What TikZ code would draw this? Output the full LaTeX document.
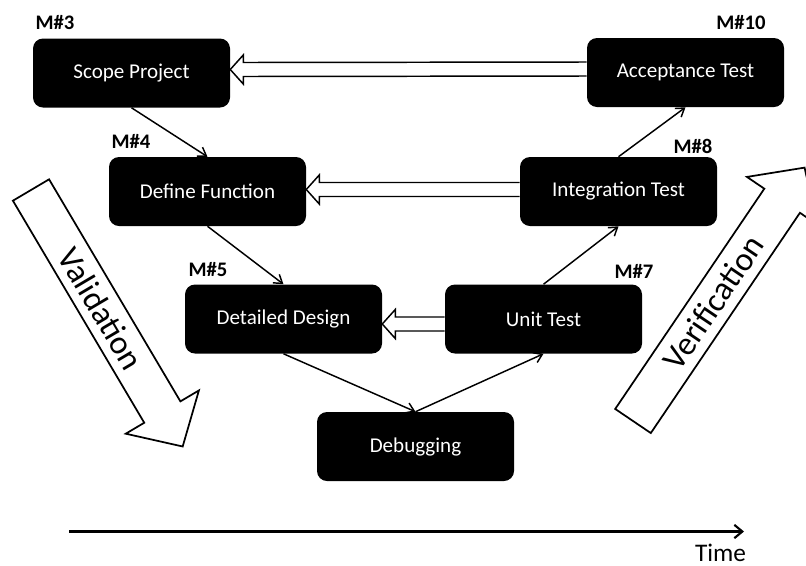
\documentclass[tikz,border=0pt]{standalone}
\usepackage{fontspec}
\setmainfont{Carlito}
\usepackage{tikz}
\usetikzlibrary{arrows.meta, calc}
\tikzset{
  stagebox/.style={
    fill=black, rounded corners=7.5pt, text=white, align=center,
    minimum width=147.75pt, minimum height=51.75pt,
    font=\fontsize{15.8}{18}\selectfont
  },
  mlabel/.style={font=\fontsize{15.5}{18}\selectfont\bfseries},
  flowarrow/.style={-{Straight Barb[length=6pt, width=8pt]}, line width=1.1pt},
  hollowarrow/.style={draw, fill=white, line width=1.1pt, line join=miter},
  bigarrow/.style={draw, fill=white, line width=1.3pt, line join=miter},
  bigtext/.style={font=\fontsize{25}{30}\selectfont, transform shape, inner sep=1pt},
  timearrow/.style={-{Straight Barb[length=6pt, width=10pt]}, line width=1.6pt},
}
% hollow connector from #1 (right) back to #2 (left), shifted by #3
\newcommand{\backarrow}[3]{%
  \draw[hollowarrow] ($(#1.west)+(0,#3-7)$) -- ($(#2.east)+(13,#3-7)$)
    -- ($(#2.east)+(13,#3-14.5)$) -- ($(#2.east)+(0,#3)$)
    -- ($(#2.east)+(13,#3+14.5)$) -- ($(#2.east)+(13,#3+7)$)
    -- ($(#1.west)+(0,#3+7)$);
}

\begin{document}
\begin{tikzpicture}[x=0.75pt, y=-0.75pt]
  \useasboundingbox (0,0) rectangle (806,565);

  % Left side of the V
  \node[stagebox] (scope) at (131.5,73) {Scope Project};
  \node[stagebox] (define) at (207.5,191.5) {Define Function};
  \node[stagebox] (design) at (283.5,319) {Detailed Design};
  \node[stagebox] (debug) at (415.5,446.5) {Debugging};

  % Right side of the V
  \node[stagebox] (unit) at (543.5,319) {Unit Test};
  \node[stagebox] (integ) at (618.5,191.5) {Integration Test};
  \node[stagebox] (accept) at (685.5,72.5) {Acceptance Test};

  % Milestones
  \node[mlabel] (m3) at (55,23) {M\#3};
  \node[mlabel] (m4) at (131,141) {M\#4};
  \node[mlabel] (m5) at (208,270) {M\#5};
  \node[mlabel] (m7) at (634,271) {M\#7};
  \node[mlabel] (m8) at (693,146) {M\#8};
  \node[mlabel] (m10) at (741,23) {M\#10};

  % Flow through the V
  \draw[flowarrow] (scope.south) -- (define.north);
  \draw[flowarrow] (define.south) -- (design.north);
  \draw[flowarrow] (design.south) -- (debug.north);
  \draw[flowarrow] (debug.north) -- (unit.south);
  \draw[flowarrow] (unit.north) -- (integ.south);
  \draw[flowarrow] (integ.north) -- (accept.south);

  % Tests back to their stages
  \backarrow{accept}{scope}{-3.5}
  \backarrow{integ}{define}{-2}
  \backarrow{unit}{design}{5}

  % Validation
  \begin{scope}[shift={(31,190)}, rotate=-59.4]
    \draw[bigarrow] (0,-21) -- (258,-21) -- (258,-42.5) -- (298,0)
      -- (258,42.5) -- (258,21) -- (0,21) -- cycle;
    \node[bigtext] (valid) at (138,0) {Validation};
  \end{scope}

  % Verification
  \begin{scope}[shift={(633,421)}, rotate=55.9]
    \draw[bigarrow] (0,-21.5) -- (266,-21.5) -- (266,-42.5) -- (306,0)
      -- (266,42.5) -- (266,21.5) -- (0,21.5) -- cycle;
    \node[bigtext] (verif) at (143,0) {Verification};
  \end{scope}

  % Time axis
  \coordinate (t0) at (69,531.5);
  \coordinate (t1) at (744,531.5);
  \draw[timearrow] (t0) -- (t1);
  \node[font=\fontsize{19}{22}\selectfont, inner sep=1pt] (time) at (720.5,553) {Time};
\end{tikzpicture}
\end{document}
